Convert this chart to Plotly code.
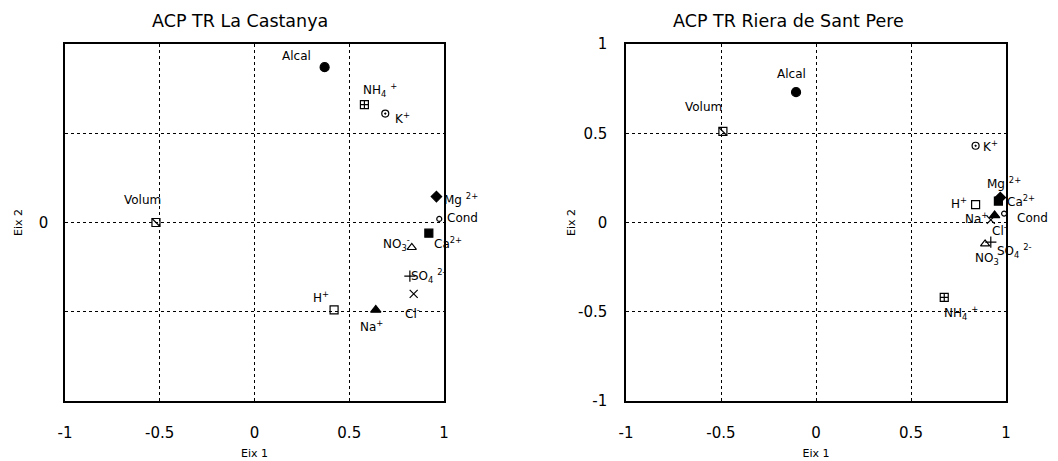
import plotly.graph_objects as go

# --- La Castanya: loadings on the first two principal axes ---
cast_vars = ["Alcal", "NH4", "K", "Mg", "Cond", "Ca", "NO3", "SO4", "Cl", "Na", "H", "Volum"]
cast_eix1 = [0.37, 0.58, 0.69, 0.96, 0.975, 0.92, 0.83, 0.82, 0.84, 0.64, 0.42, -0.52]
cast_eix2 = [0.87, 0.66, 0.61, 0.145, 0.02, -0.06, -0.14, -0.30, -0.40, -0.49, -0.49, 0.0]

# --- Riera de Sant Pere ---
sp_vars = ["Alcal", "Volum", "K", "Mg", "Ca", "H", "Cond", "Na", "Cl", "SO4", "NO3", "NH4"]
sp_eix1 = [-0.105, -0.49, 0.84, 0.97, 0.96, 0.84, 0.99, 0.94, 0.92, 0.92, 0.89, 0.675]
sp_eix2 = [0.73, 0.51, 0.43, 0.14, 0.12, 0.10, 0.05, 0.04, 0.015, -0.11, -0.12, -0.42]

axis_ticks = [-1, -0.5, 0, 0.5, 1]
axis_ticktext = ["-1", "-0.5", "0", "0.5", "1"]

# label text for each variable
label_text = {
    "Alcal": "Alcal",
    "NH4": "NH<sub>4</sub> <sup>+</sup>",
    "K": "K<sup>+</sup>",
    "Mg": "Mg <sup>2+</sup>",
    "Cond": "Cond",
    "Ca": "Ca<sup>2+</sup>",
    "NO3": "NO<sub>3</sub><sup>-</sup>",
    "SO4": "SO<sub>4</sub> <sup>2-</sup>",
    "Cl": "Cl<sup>-</sup>",
    "Na": "Na<sup>+</sup>",
    "H": "H<sup>+</sup>",
    "Volum": "Volum",
}

# marker style for each variable
marker_style = {
    "Alcal": ("circle", 9),
    "NH4": ("square-cross-open", 8),
    "K": ("circle-open-dot", 7),
    "Mg": ("diamond", 8),
    "Cond": ("circle-open", 5),
    "Ca": ("square", 8),
    "NO3": ("triangle-up-open", 8),
    "SO4": ("cross-thin-open", 8),
    "Cl": ("x-thin-open", 8),
    "Na": ("triangle-up", 9),
    "H": ("square-open", 8),
    "Volum": ("square-open", 8),
}

# label offsets (pixels) relative to each marker
cast_shift = {
    "Alcal": (-28, 11), "NH4": (16, 15), "K": (17, -4), "Mg": (25, -2),
    "Cond": (23, 1), "Ca": (19, -10), "NO3": (-15, 3), "SO4": (19, 0),
    "Cl": (-1, -19), "Na": (-4, -16), "H": (-13, 13), "Volum": (-13, 23),
}
sp_shift = {
    "Alcal": (-5, 18), "Volum": (-19, 24), "K": (15, 0), "Mg": (4, 15),
    "Ca": (23, 0), "H": (-17, 2), "Cond": (28, -4), "Na": (-18, -3),
    "Cl": (9, -10), "SO4": (24, -9), "NO3": (3, -14), "NH4": (17, -16),
}

fig = go.Figure()
annotations = []


def add_panel(names, xs, ys, shifts, xa, ya):
    for name, x, y in zip(names, xs, ys):
        sym, size = marker_style[name]
        fig.add_trace(go.Scatter(
            x=[x], y=[y], mode="markers", xaxis=xa, yaxis=ya,
            marker=dict(symbol=sym, size=size, color="black",
                        line=dict(color="black", width=1.2)),
            showlegend=False, hoverinfo="skip", cliponaxis=False,
        ))
        if name == "Volum":
            # diagonal stroke inside the Volum square
            fig.add_trace(go.Scatter(
                x=[x], y=[y], mode="markers", xaxis=xa, yaxis=ya,
                marker=dict(symbol="line-nw-open", size=size, color="black",
                            line=dict(color="black", width=1.2)),
                showlegend=False, hoverinfo="skip", cliponaxis=False,
            ))
        dx, dy = shifts[name]
        annotations.append(dict(
            x=x, y=y, xref=xa, yref=ya, text=label_text[name], showarrow=False,
            xanchor="center", yanchor="middle",
            xshift=dx, yshift=dy, font=dict(size=12, color="black"),
        ))


add_panel(cast_vars, cast_eix1, cast_eix2, cast_shift, "x", "y")
add_panel(sp_vars, sp_eix1, sp_eix2, sp_shift, "x2", "y2")

font_family = "DejaVu Sans, Liberation Sans, sans-serif"

common_axis = dict(
    range=[-1, 1], showline=True, mirror=True, linecolor="black", linewidth=1.5,
    showgrid=True, gridcolor="black", griddash="dot", gridwidth=1.4,
    zeroline=False, ticks="", tickfont=dict(size=15, color="black"),
    fixedrange=True, automargin=False,
)

y_dom = [1 - 401 / 461, 1 - 44 / 461]

fig.update_layout(
    width=1058, height=461,
    margin=dict(l=0, r=0, t=0, b=0),
    paper_bgcolor="white", plot_bgcolor="white",
    font=dict(family=font_family, color="black"),
    xaxis=dict(common_axis, domain=[65 / 1058, 444 / 1058],
               tickvals=axis_ticks, ticktext=axis_ticktext, ticklabelstandoff=17,
               title=dict(text="Eix 1", font=dict(size=11), standoff=9)),
    yaxis=dict(common_axis, domain=y_dom,
               tickvals=[-0.5, 0, 0.5], ticktext=["", "0", ""], ticklabelstandoff=12,
               title=dict(text="Eix 2", font=dict(size=11), standoff=14)),
    xaxis2=dict(common_axis, domain=[626 / 1058, 1006 / 1058], anchor="y2",
                tickvals=axis_ticks, ticktext=axis_ticktext, ticklabelstandoff=17,
                title=dict(text="Eix 1", font=dict(size=11), standoff=9)),
    yaxis2=dict(common_axis, domain=y_dom, anchor="x2",
                tickvals=axis_ticks, ticktext=axis_ticktext, ticklabelstandoff=14,
                title=dict(text="Eix 2", font=dict(size=11), standoff=0)),
)

annotations.append(dict(
    x=240 / 1058, y=1 - 21 / 461, xref="paper", yref="paper", showarrow=False,
    xanchor="center", yanchor="middle",
    text="ACP TR La Castanya", font=dict(size=17.5, color="black"),
))
annotations.append(dict(
    x=788 / 1058, y=1 - 21 / 461, xref="paper", yref="paper", showarrow=False,
    xanchor="center", yanchor="middle",
    text="ACP TR Riera de Sant Pere", font=dict(size=17.5, color="black"),
))
fig.update_layout(annotations=annotations)

fig.write_html("out.html")
